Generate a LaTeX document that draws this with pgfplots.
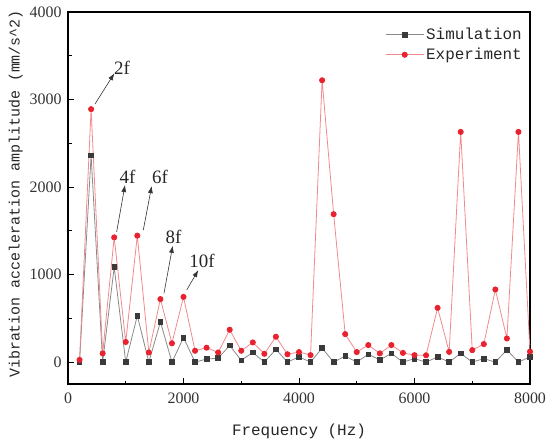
\documentclass[border=0pt]{standalone}
\usepackage{pgfplots}
\pgfplotsset{compat=1.18}
\usepackage{pgfplotstable}
\usetikzlibrary{arrows.meta}
\usepackage{fontspec}
\setmainfont{Liberation Serif}
\newfontfamily\mono{Liberation Mono}
\definecolor{simline}{HTML}{8A8A8A}
\definecolor{simmark}{HTML}{3A3A3A}
\definecolor{expline}{HTML}{F08A8E}
\definecolor{expmark}{HTML}{E8232F}
\pgfplotstableread{
f sim exp
200 0 25
400 2360 2890
600 0 100
800 1085 1425
1000 0 230
1200 530 1445
1400 0 110
1600 460 720
1800 0 215
2000 280 745
2200 0 130
2400 35 165
2600 45 110
2800 190 370
3000 20 130
3200 110 225
3400 0 95
3600 145 290
3800 0 90
4000 60 115
4200 0 80
4400 160 3220
4600 0 1690
4800 70 320
5000 0 115
5200 90 195
5400 25 100
5600 100 195
5800 0 105
6000 40 80
6200 0 78
6400 60 620
6600 0 117
6800 100 2630
7000 0 137
7200 40 206
7400 0 830
7600 140 270
7800 0 2630
8000 60 120
}\datatable
\begin{document}
\begin{tikzpicture}
\begin{axis}[
  name=ax,
  at={(0,0)}, anchor=south west,
  scale only axis,
  width=462bp, height=372bp,
  xmin=0, xmax=8000, ymin=-250, ymax=4000,
  xtick={0,2000,...,8000}, ytick={0,1000,...,4000},
  minor x tick num=1, minor y tick num=1,
  tick pos=left, tick align=inside,
  major tick length=6bp, minor tick length=3.5bp,
  every tick/.style={black, line width=0.8bp},
  axis line style={line width=1.1bp},
  scaled ticks=false,
  /pgf/number format/.cd, 1000 sep={}, assume math mode=true, /pgfplots/.cd,
  ticklabel style={font=\fontsize{16}{18}\selectfont, text=black!80},
  xticklabel style={yshift=-5bp},
  yticklabel style={xshift=-3bp},
  xlabel={Frequency (Hz)},
  ylabel={Vibration acceleration amplitude (mm/s\textasciicircum 2)},
  xlabel style={font=\mono\fontsize{16}{18}\selectfont, text=black!85, yshift=-14bp},
  ylabel style={font=\mono\fontsize{15}{17}\selectfont, text=black!85, xshift=4bp},
  legend style={at={(1,1)}, anchor=north east, xshift=-4bp, yshift=-12bp, draw=none, fill=none,
    font=\mono\fontsize{16}{19}\selectfont, text=black!85, row sep=3bp, inner sep=2bp},
  legend cell align=left,
  legend image code/.code={\draw[mark repeat=2,mark phase=2] plot coordinates {(-6bp,0bp)(13bp,0bp)(32bp,0bp)};},
]
\addplot[simline, line width=0.8bp, mark=square*, mark size=2.3bp, mark options={simmark, fill=simmark}] table[x=f, y=sim] {\datatable};
\addlegendentry{Simulation}
\addplot[expline, line width=0.8bp, mark=*, mark size=2.6bp, mark options={expmark, fill=expmark}] table[x=f, y=exp] {\datatable};
\addlegendentry{Experiment}
\begin{scope}[-{Latex[length=7bp,width=5bp]}, black!80, line width=0.6bp]
\draw (axis cs:468,2949) -- (axis cs:802,3299);
\draw (axis cs:843,1489) -- (axis cs:987,2023);
\draw (axis cs:1304,1509) -- (axis cs:1449,2011);
\draw (axis cs:1662,785) -- (axis cs:1813,1329);
\draw (axis cs:2055,823) -- (axis cs:2256,1051);
\end{scope}
\begin{scope}[font=\fontsize{19}{21}\selectfont, text=black!85, inner sep=1bp]
\node[anchor=south west] at (axis cs:780,3270) {2f};
\node[anchor=south] at (axis cs:1030,2030) {4f};
\node[anchor=south] at (axis cs:1593,2030) {6f};
\node[anchor=south] at (axis cs:1827,1340) {8f};
\node[anchor=south] at (axis cs:2320,1060) {10f};
\end{scope}
\end{axis}
\pgfresetboundingbox
\path[use as bounding box] ([shift={(-68bp,-58bp)}]ax.south west) rectangle ([shift={(20bp,12bp)}]ax.north east);
\end{tikzpicture}
\end{document}
